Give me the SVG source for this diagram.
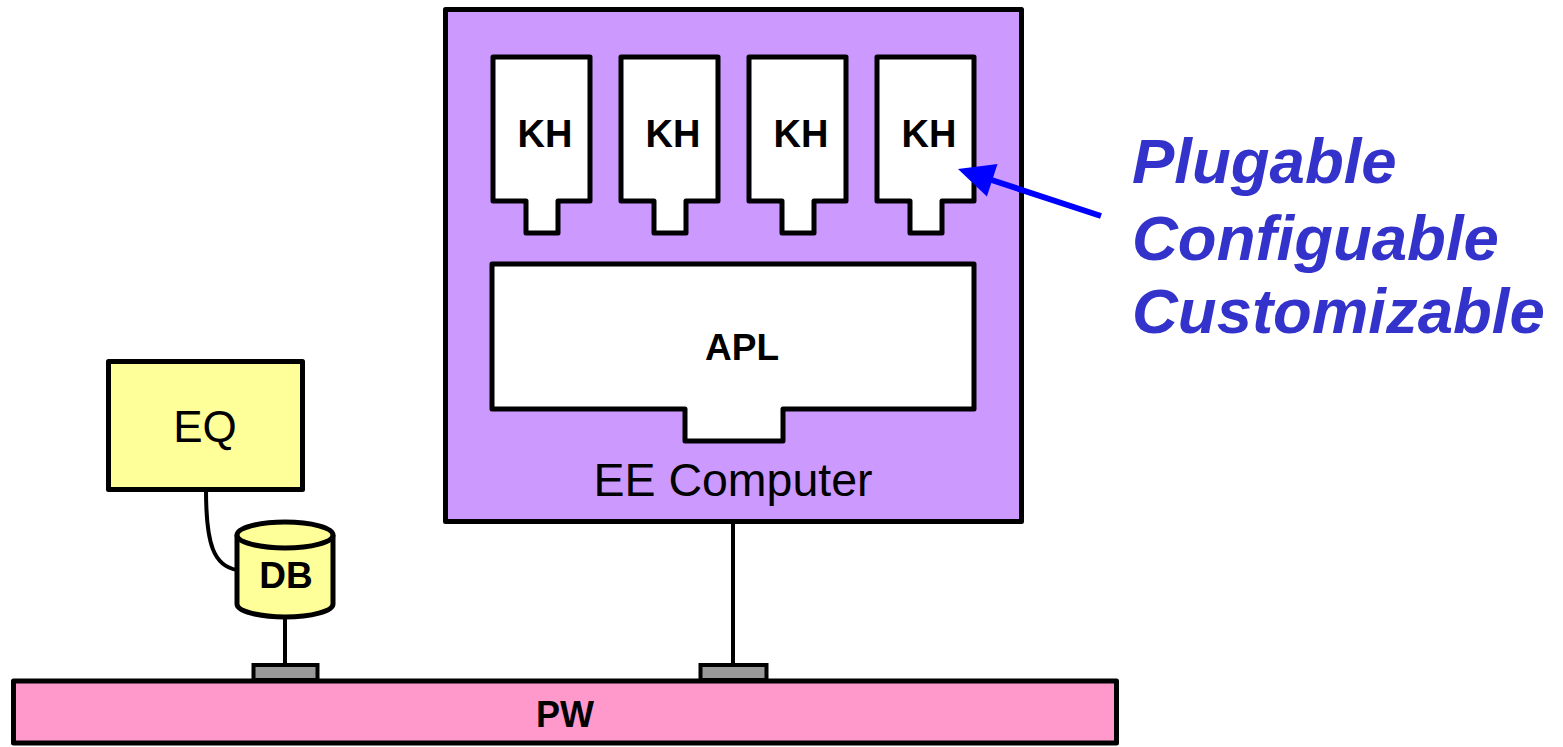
<svg xmlns="http://www.w3.org/2000/svg" width="1563" height="747" viewBox="0 0 1563 747">
<style>
.s{stroke:#000;stroke-width:5;stroke-linejoin:round}
.w{fill:#fff}
.b{font-family:"Liberation Sans",Arial,sans-serif;font-weight:bold;text-anchor:middle;fill:#000}
.n{font-family:"Liberation Sans",Arial,sans-serif;text-anchor:middle;fill:#000}
.c{fill:#999;stroke:#000;stroke-width:4}
.ln{stroke:#000;stroke-width:4;fill:none}
.t{font-family:"Liberation Sans",Arial,sans-serif;font-weight:bold;font-style:italic;font-size:63.5px;fill:#3333CC}
</style>
<rect width="1563" height="747" fill="#fff"/>
<g id="connectors">
<path class="ln" d="M206,490 C206,545 214,566 237,570"/>
<line class="ln" x1="285" y1="617" x2="285" y2="665"/>
<line class="ln" x1="733" y1="521" x2="733" y2="665"/>
<rect class="c" x="253.5" y="665" width="64" height="15"/>
<rect class="c" x="700.5" y="665" width="66" height="15"/>
</g>
<g id="pw">
<rect class="s" x="13.5" y="681" width="1103" height="62" fill="#FF99CC"/>
<text class="b" x="565" y="727" font-size="36">PW</text>
</g>
<g id="ee-computer">
<rect class="s" x="445.5" y="9.5" width="576" height="512" fill="#CC99FF"/>
<text class="n" x="733" y="496" font-size="46.5">EE Computer</text>
</g>
<g id="kh1">
<path class="s w" d="M493,57 H590 V201 H558 V233 H526 V201 H493 Z"/>
<text class="b" x="545" y="147" font-size="38">KH</text>
</g>
<g id="kh2">
<path class="s w" d="M621,57 H718 V201 H686 V233 H654 V201 H621 Z"/>
<text class="b" x="673" y="147" font-size="38">KH</text>
</g>
<g id="kh3">
<path class="s w" d="M749,57 H846 V201 H814 V233 H782 V201 H749 Z"/>
<text class="b" x="801" y="147" font-size="38">KH</text>
</g>
<g id="kh4">
<path class="s w" d="M877,57 H974 V201 H942 V233 H910 V201 H877 Z"/>
<text class="b" x="929" y="147" font-size="38">KH</text>
</g>
<g id="apl">
<path class="s w" d="M492,264 H974 V409 H783 V441 H685 V409 H492 Z"/>
<text class="b" x="742" y="360" font-size="37">APL</text>
</g>
<g id="eq">
<rect class="s" x="108.5" y="361.5" width="194" height="128" fill="#FFFF99"/>
<text class="n" x="205" y="442" font-size="44">EQ</text>
</g>
<g id="db">
<path class="s" d="M237,535 V604 A48,13 0 0 0 333,604 V535" fill="#FFFF99"/>
<ellipse class="s" cx="285" cy="535" rx="48" ry="13" fill="#FFFF99"/>
<text class="b" x="286" y="588" font-size="37">DB</text>
</g>
<g id="arrow">
<line x1="1101" y1="216" x2="990" y2="179.5" stroke="#0000FF" stroke-width="6"/>
<polygon points="958,169 997.5,164 986.9,196.4" fill="#0000FF"/>
</g>
<g id="label">
<text class="t" x="1132" y="183">Plugable</text>
<text class="t" x="1132" y="260">Configuable</text>
<text class="t" x="1132" y="333">Customizable</text>
</g>
</svg>
